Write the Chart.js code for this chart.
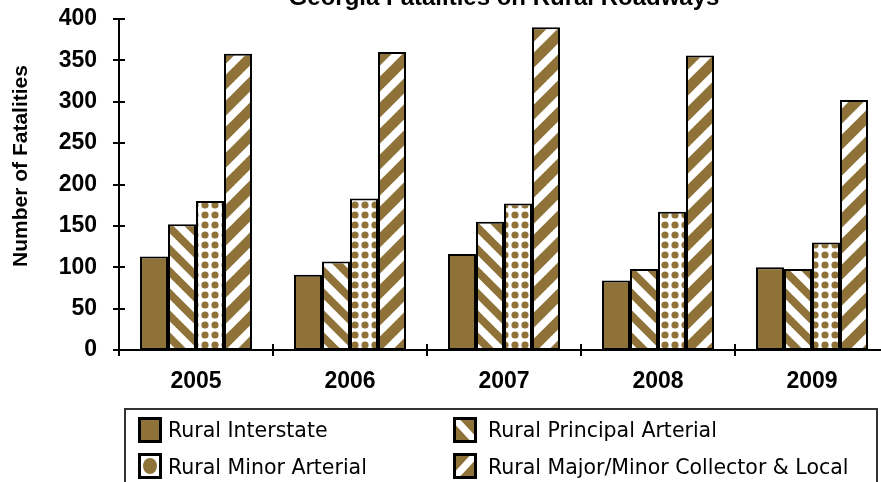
<!DOCTYPE html>
<html>
<head>
<meta charset="utf-8">
<script src="https://cdn.jsdelivr.net/npm/chart.js@4.4.1/dist/chart.umd.min.js"></script>
<style>
  html, body { margin: 0; padding: 0; background: #ffffff; }
  #wrap { position: relative; width: 881px; height: 482px; overflow: hidden; background: #fff; }
  #c { position: absolute; left: 0; top: -30px; }
</style>
</head>
<body>
<div id="wrap"><canvas id="c" width="900" height="520"></canvas></div>
<script>
// ---- Data ----
const years = ['2005', '2006', '2007', '2008', '2009'];
const seriesNames = ['Rural Interstate', 'Rural Principal Arterial', 'Rural Minor Arterial', 'Rural Major/Minor Collector & Local'];
const ruralInterstate = [113, 91, 116, 84, 100];
const ruralPrincipalArterial = [152, 107, 155, 98, 98];
const ruralMinorArterial = [180, 183, 177, 167, 130];
const ruralCollectorLocal = [358, 360, 390, 356, 302];
const yTicks = [0, 50, 100, 150, 200, 250, 300, 350, 400];
const chartTitle = 'Georgia Fatalities on Rural Roadways';
const yAxisTitle = 'Number of Fatalities';

// ---- Styles ----
const BROWN = 'rgb(143,114,56)';
const FONT = "'Liberation Sans', Arial, sans-serif";
const LEGEND_FONT = "'DejaVu Sans', sans-serif";

function makeTile(size, drawFn) {
  const c = document.createElement('canvas');
  c.width = size; c.height = size;
  const g = c.getContext('2d');
  g.fillStyle = '#fff';
  g.fillRect(0, 0, size, size);
  drawFn(g, size);
  return document.createElement('canvas').getContext('2d').createPattern(c, 'repeat');
}
const backslashPattern = makeTile(22, (g, s) => {
  g.strokeStyle = BROWN;
  g.lineWidth = s / Math.SQRT2 * 0.5;
  for (let k = -2; k <= 2; k++) {
    g.beginPath(); g.moveTo(k * s - s, -s); g.lineTo(k * s + 2 * s, 2 * s); g.stroke();
  }
});
const slashPattern = makeTile(26, (g, s) => {
  g.strokeStyle = BROWN;
  g.lineWidth = s / Math.SQRT2 * 0.58;
  for (let k = -2; k <= 2; k++) {
    g.beginPath(); g.moveTo(k * s - s, 2 * s); g.lineTo(k * s + 2 * s, -s); g.stroke();
  }
});
const dotPattern = makeTile(10, (g, s) => {
  g.fillStyle = BROWN;
  g.beginPath(); g.arc(s / 2, s / 2, 3.6, 0, Math.PI * 2); g.fill();
});

const fills = [BROWN, backslashPattern, dotPattern, slashPattern];
const seriesData = [ruralInterstate, ruralPrincipalArterial, ruralMinorArterial, ruralCollectorLocal];

const customDraw = {
  id: 'customDraw',
  afterDraw(chart) {
    const ctx = chart.ctx;
    const xs = chart.scales.x, ys = chart.scales.y;
    const area = chart.chartArea;
    ctx.save();
    ctx.strokeStyle = '#000';
    ctx.lineWidth = 2;
    // y-axis crossing ticks
    yTicks.forEach(v => {
      const py = Math.round(ys.getPixelForValue(v));
      ctx.beginPath(); ctx.moveTo(area.left - 6, py); ctx.lineTo(area.left + 6, py); ctx.stroke();
    });
    // x-axis crossing ticks at category boundaries
    for (let i = 0; i <= years.length; i++) {
      const px = Math.round(xs.getPixelForValue(i - 0.5));
      ctx.beginPath(); ctx.moveTo(px, area.bottom - 6); ctx.lineTo(px, area.bottom + 6); ctx.stroke();
    }
    // y-axis title
    ctx.save();
    ctx.translate(21, 196);
    ctx.rotate(-Math.PI / 2);
    ctx.fillStyle = '#000';
    ctx.font = 'bold 21px ' + FONT;
    ctx.textAlign = 'center';
    ctx.textBaseline = 'middle';
    ctx.fillText(yAxisTitle, 0, 0);
    ctx.restore();

    // legend box
    ctx.strokeStyle = '#333';
    ctx.lineWidth = 2;
    ctx.strokeRect(125, 439, 752, 120);
    const items = [
      { x: 138, y: 447, tx: 168, ty: 462 },
      { x: 453, y: 447, tx: 488, ty: 462 },
      { x: 138, y: 483, tx: 168, ty: 499 },
      { x: 453, y: 483, tx: 488, ty: 499 }
    ];
    chart.data.datasets.forEach((ds, i) => {
      const it = items[i];
      const w = 24, h = 26;
      ctx.save();
      ctx.beginPath(); ctx.rect(it.x, it.y, w, h); ctx.clip();
      if (i === 0) {
        ctx.fillStyle = BROWN; ctx.fillRect(it.x, it.y, w, h);
      } else if (i === 2) {
        ctx.fillStyle = '#fff'; ctx.fillRect(it.x, it.y, w, h);
        ctx.fillStyle = BROWN;
        ctx.beginPath(); ctx.ellipse(it.x + w / 2, it.y + h / 2, 7, 8, 0, 0, Math.PI * 2); ctx.fill();
      } else if (i === 1) {
        ctx.fillStyle = BROWN; ctx.fillRect(it.x, it.y, w, h);
        ctx.strokeStyle = '#fff'; ctx.lineWidth = 7;
        ctx.beginPath(); ctx.moveTo(it.x, it.y); ctx.lineTo(it.x + w, it.y + h); ctx.stroke();
      } else {
        ctx.fillStyle = BROWN; ctx.fillRect(it.x, it.y, w, h);
        ctx.strokeStyle = '#fff'; ctx.lineWidth = 7;
        ctx.beginPath(); ctx.moveTo(it.x, it.y + h); ctx.lineTo(it.x + w, it.y); ctx.stroke();
      }
      ctx.restore();
      ctx.strokeStyle = '#000'; ctx.lineWidth = 3;
      ctx.strokeRect(it.x + 1.5, it.y + 1.5, w - 3, h - 3);
      ctx.fillStyle = '#000';
      ctx.font = '20.5px ' + LEGEND_FONT;
      ctx.textAlign = 'left';
      ctx.textBaseline = 'middle';
      ctx.fillText(ds.label, it.tx, it.ty);
    });
    ctx.restore();
  }
};

new Chart(document.getElementById('c'), {
  type: 'bar',
  data: {
    labels: years,
    datasets: seriesNames.map((name, i) => ({
      label: name,
      data: seriesData[i],
      backgroundColor: fills[i],
      borderColor: '#000',
      borderWidth: 2,
      borderSkipped: false,
      categoryPercentage: 0.727,
      barPercentage: 1.0
    }))
  },
  options: {
    responsive: false,
    animation: false,
    devicePixelRatio: 1,
    layout: { padding: { left: 0, right: 11, top: 0, bottom: 90 } },
    plugins: {
      legend: { display: false },
      tooltip: { enabled: false },
      title: {
        display: true,
        text: chartTitle,
        fullSize: false,
        color: '#000',
        font: { family: FONT, size: 24, weight: 'bold' },
        padding: { top: 13.6, bottom: 6.6 }
      }
    },
    scales: {
      x: {
        grid: { display: false, drawTicks: false },
        border: { display: true, color: '#000', width: 2 },
        ticks: { color: '#000', font: { family: FONT, size: 23, weight: 'bold' }, padding: 18 },
        afterFit(scale) { scale.height = 50; }
      },
      y: {
        min: 0, max: 400,
        grid: { display: false, drawTicks: false },
        border: { display: true, color: '#000', width: 2 },
        afterBuildTicks(scale) { scale.ticks = yTicks.map(v => ({ value: v })); },
        ticks: { color: '#000', font: { family: FONT, size: 23, weight: 'bold' }, padding: 22 },
        afterFit(scale) { scale.width = 119; }
      }
    }
  },
  plugins: [customDraw]
});
</script>
</body>
</html>
